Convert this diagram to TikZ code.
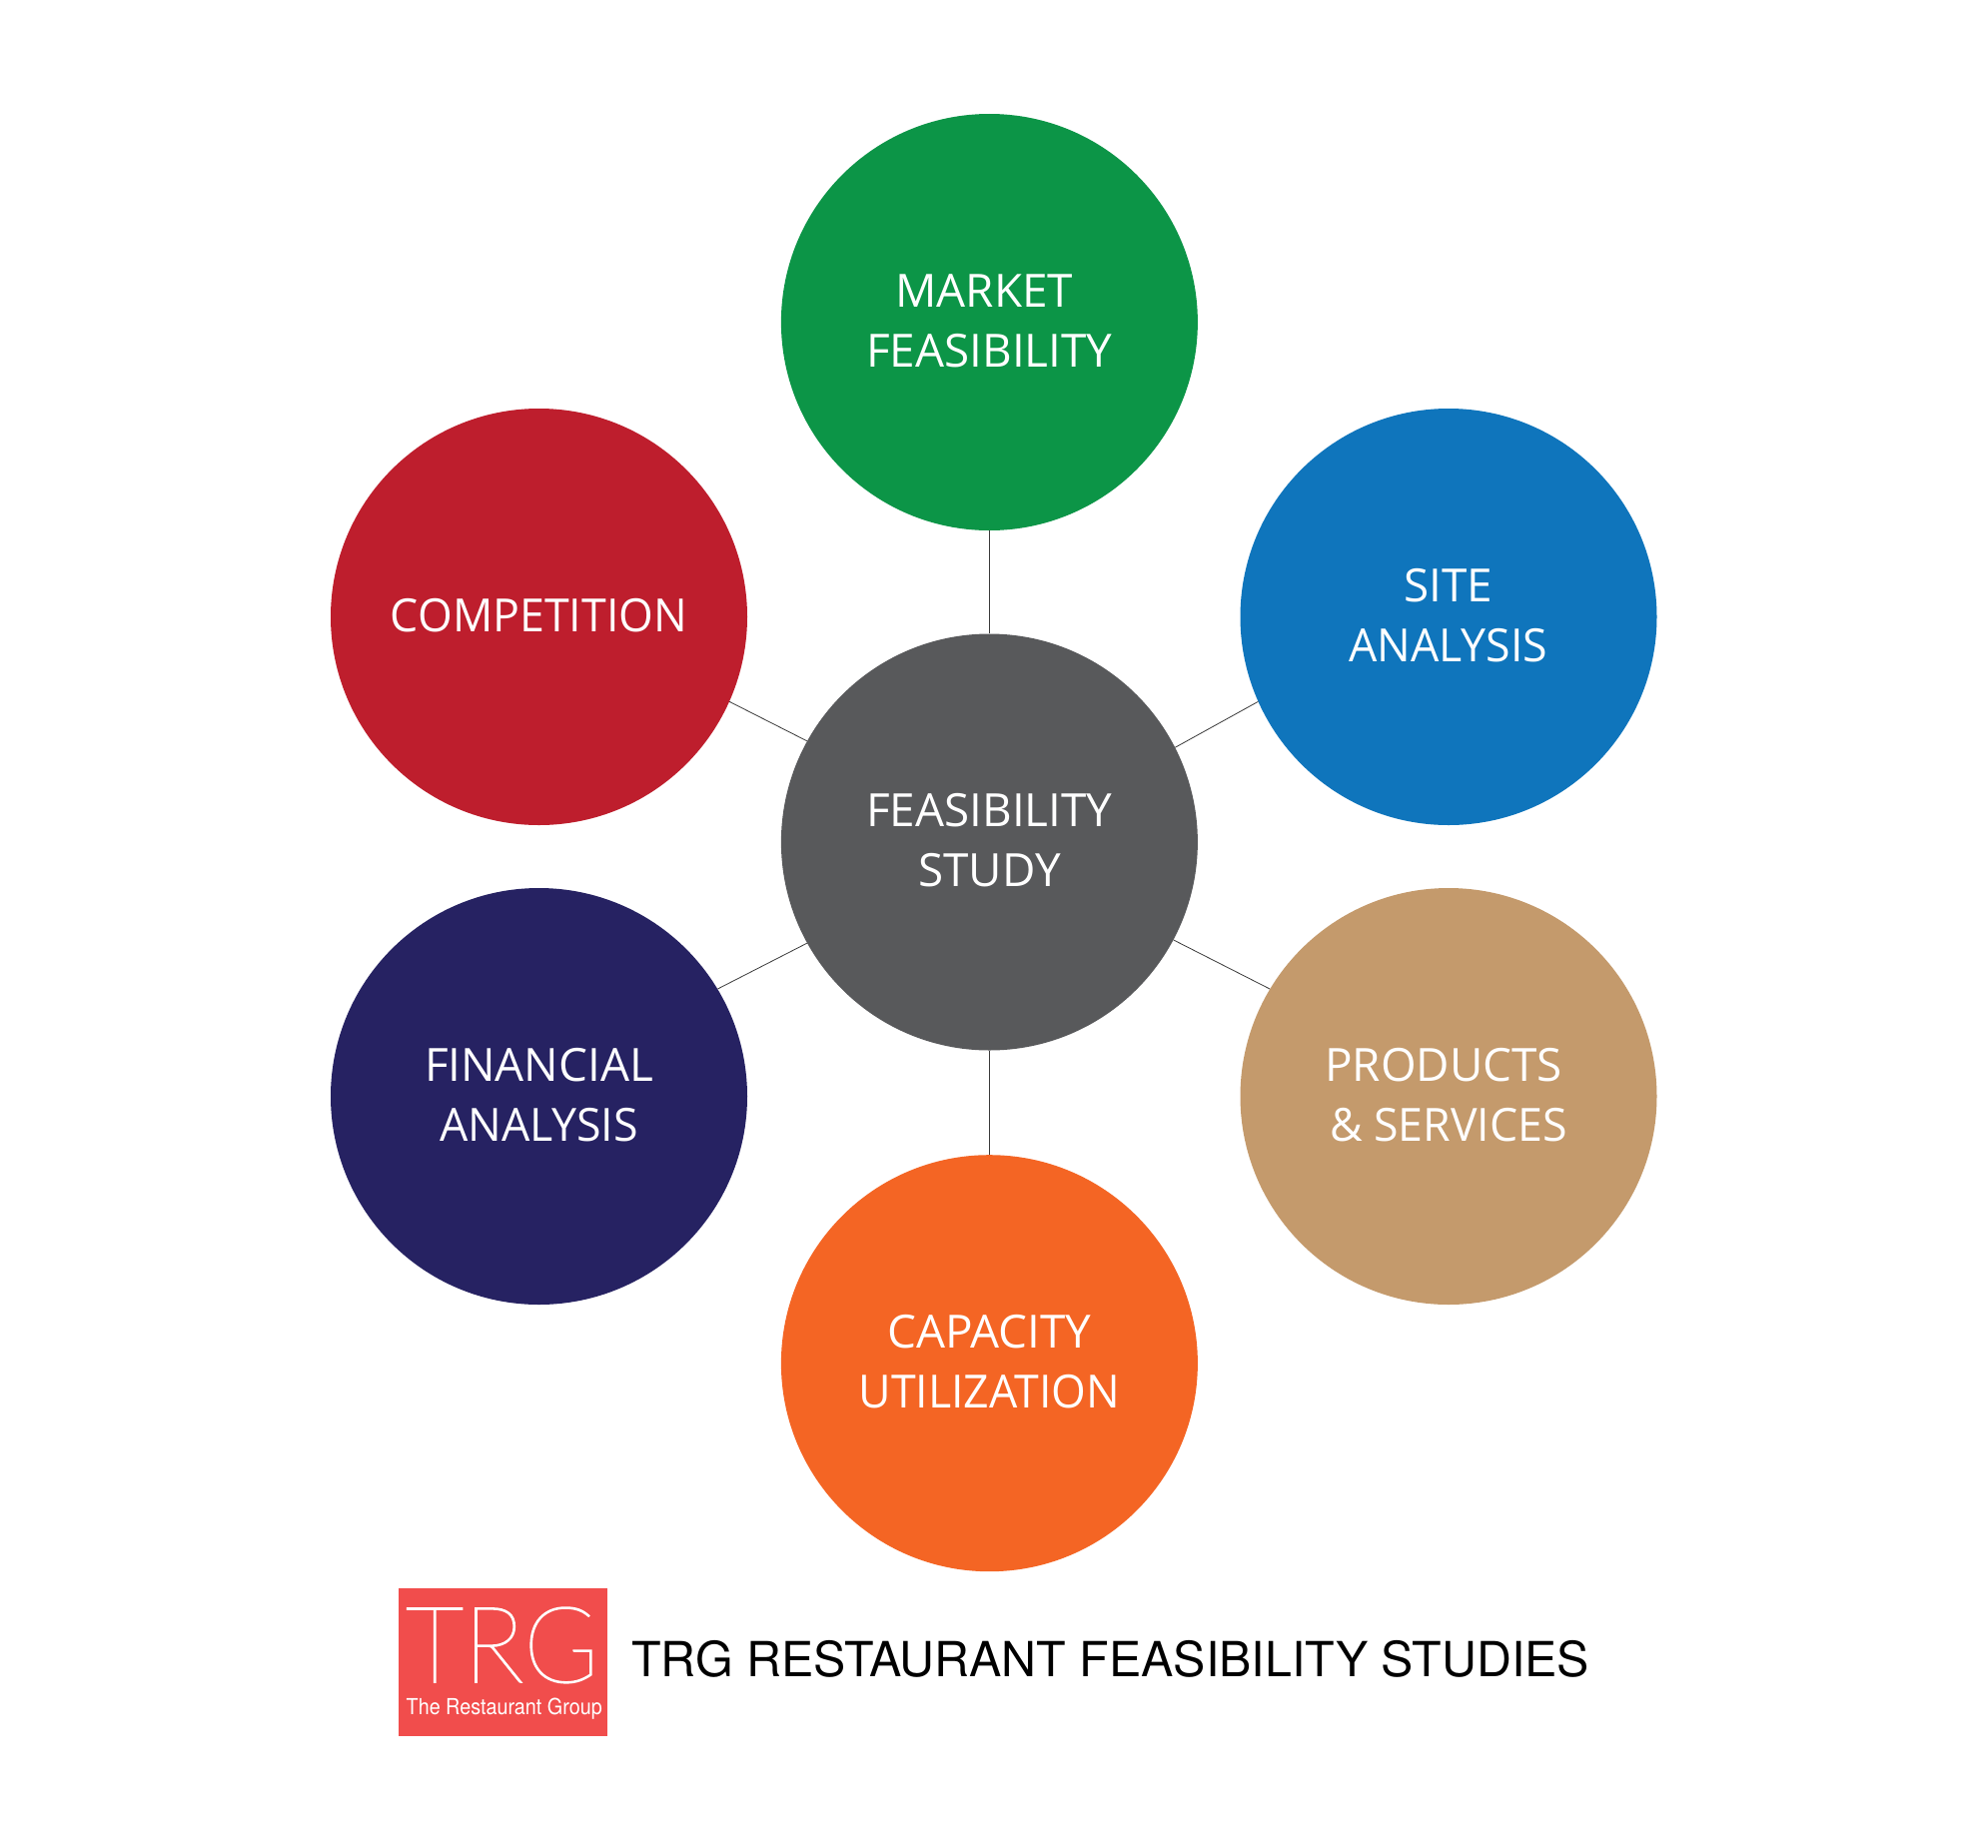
\documentclass[tikz,border=0pt]{standalone}
\usepackage{fontspec}
\usepackage{graphicx}
\setmainfont{Open Sans}
\newfontfamily\arialf{TeX Gyre Heros}
\newfontfamily\thinf[FakeBold=1.4]{Lato Hairline}
\definecolor{cgreen}{HTML}{0C9547}
\definecolor{cblue}{HTML}{0F75BC}
\definecolor{cred}{HTML}{BE1E2D}
\definecolor{cnavy}{HTML}{262262}
\definecolor{ctan}{HTML}{C49A6C}
\definecolor{corange}{HTML}{F46524}
\definecolor{cgrey}{HTML}{58595B}
\definecolor{clogo}{HTML}{F14D4C}
\definecolor{cline}{HTML}{3A3A3A}
\newcommand\twolines[2]{\raisebox{0pt}[\dimexpr\height+5.5bp\relax]{\begin{tabular}{@{}c@{}}#1\\#2\end{tabular}}}
\newcommand\nx[1]{\scalebox{.975}[1]{#1}}
\tikzset{
  bubble/.style={circle,minimum size=417bp,inner sep=0pt,draw=none,text=white,align=center,
    font=\fontsize{46}{60}\selectfont},
  spoke/.style={draw=cline,line width=0.8bp},
  plain/.style={inner sep=0pt,anchor=base west}
}
\begin{document}
\begin{tikzpicture}[x=1bp,y=-1bp]
\useasboundingbox (0,0) rectangle (1990,1850);
\fill[white] (0,0) rectangle (1990,1850);
\node[bubble,fill=cgrey]   (center) at (990.4,843) {\twolines{FEASIBILITY}{STUDY}};
\node[bubble,fill=cgreen]  (market) at (990.4,322.5) {\twolines{MARKET\kern10bp}{FEASIBILITY}};
\node[bubble,fill=cblue]   (site)   at (1450,617.5)    {\twolines{SITE}{\nx{ANALYSIS}}};
\node[bubble,fill=ctan]    (prod)   at (1450,1097.5)   {\twolines{PRODUCTS\kern10bp}{\nx{\&~SERVICES}}};
\node[bubble,fill=corange] (cap)    at (990.4,1364.7){\twolines{CAPACITY}{\nx{UTILIZATION}}};
\node[bubble,fill=cnavy]   (fin)    at (539.5,1097.5)  {\twolines{FINANCIAL}{\nx{ANALYSIS}}};
\node[bubble,fill=cred]    (comp)   at (539.5,617.5)   {\raisebox{0pt}[\height][\dimexpr\depth+2.6bp\relax]{\nx{COMPETITION}}};
\draw[spoke] (center.north) -- (market.south);
\draw[spoke] (center.south) -- (cap.north);
\draw[spoke] (center.27.8) -- (site.-156.3);
\draw[spoke] (center.-28) -- (prod.149.5);
\draw[spoke] (center.-151.6) -- (fin.31.3);
\draw[spoke] (center.151.5) -- (comp.-24);
\node[fill=clogo,minimum width=208.7bp,minimum height=147.8bp,inner sep=0pt,anchor=north west] (logo) at (399,1589.5) {};
\node[plain,text=white] (logotrg) at (406,1684) {\resizebox{193bp}{75bp}{\thinf TRG}};
\node[plain,text=white] (logosub) at (406.5,1716) {\resizebox{196bp}{16.5bp}{\arialf The Restaurant Group}};
\node[plain,text=black] (title) at (632,1678) {\resizebox{959bp}{!}{\arialf\fontsize{50}{50}\selectfont TRG RESTAURANT FEASIBILITY STUDIES}};
\end{tikzpicture}
\end{document}
